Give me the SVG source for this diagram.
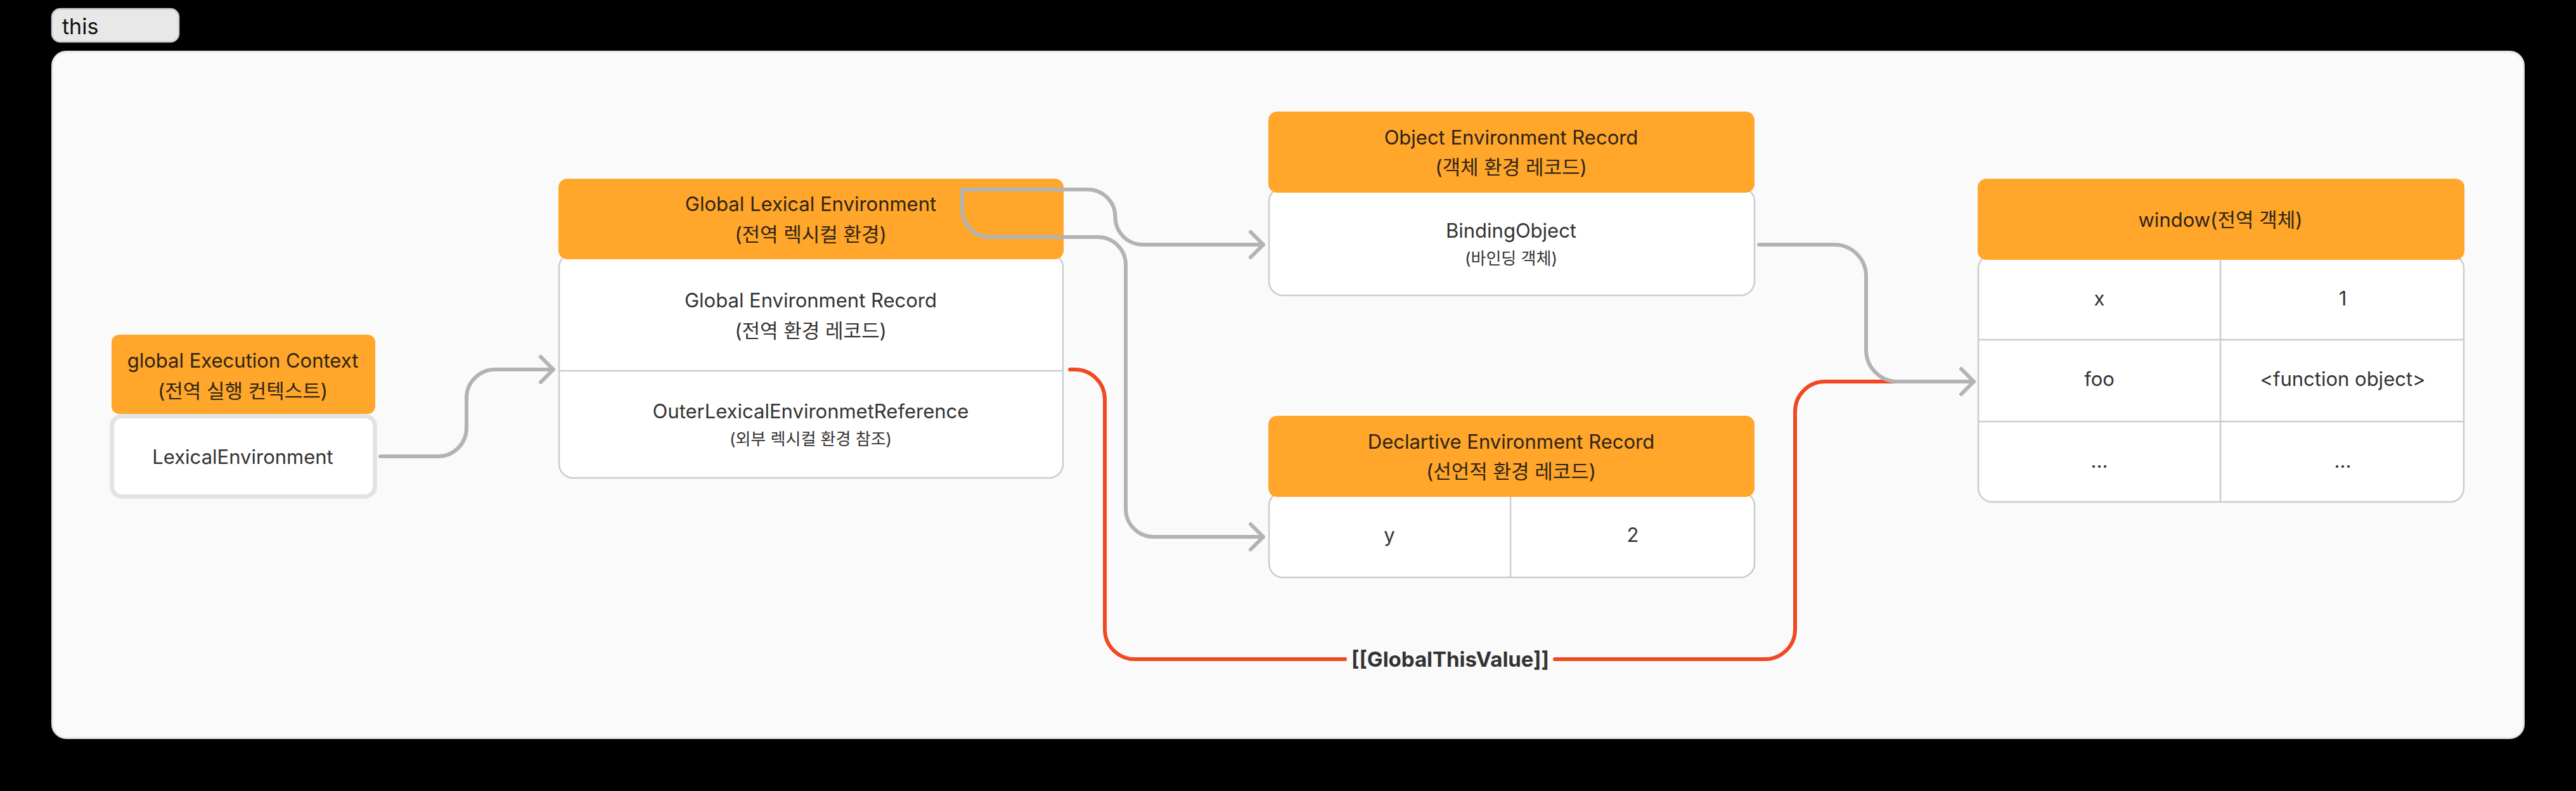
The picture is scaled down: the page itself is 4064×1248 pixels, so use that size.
<svg xmlns="http://www.w3.org/2000/svg" width="4064" height="1248" viewBox="0 0 4064 1248">
<style>
.t{font-family:Inter,"Noto Sans CJK KR",sans-serif;font-size:31px;text-anchor:middle;fill:#333333}
.h{fill:#2e2416}
.s{font-size:26px}
.hd{fill:#FFA62B}
.bd{fill:#ffffff;stroke:#cccccc;stroke-width:2.5}
.dv{stroke:#cccccc;stroke-width:2.5;fill:none}
.cg{fill:none;stroke:#b3b3b3;stroke-width:6;stroke-linecap:round;stroke-linejoin:round}
.cr{fill:none;stroke:#F24822;stroke-width:6;stroke-linecap:round;stroke-linejoin:round}
</style>
<defs>
<marker id="ag" markerUnits="userSpaceOnUse" markerWidth="50" markerHeight="50" viewBox="-30 -25 35 50" refX="0" refY="0" orient="auto">
<path d="M-20,-20 L0,0 L-20,20" fill="none" stroke="#b3b3b3" stroke-width="6" stroke-linecap="round" stroke-linejoin="round"/>
</marker>
</defs>
<rect x="0" y="0" width="4064" height="1248" fill="#000000"/>
<g id="tab">
<rect x="82" y="14" width="200" height="52" rx="13" fill="#e8e8e8" stroke="#cccccc" stroke-width="2.5"/>
<text x="98" y="54" style="font-family:Inter,sans-serif;font-size:34px;fill:#111111">this</text>
</g>
<g id="frame">
<rect x="82.5" y="81.5" width="3899" height="1083" rx="22" fill="#fafafa" stroke="#e6e6e6" stroke-width="3"/>
</g>
<g id="global-execution-context">
<rect x="176.5" y="656.5" width="415" height="127" rx="16" fill="#ffffff" stroke="#e3e3e3" stroke-width="7"/>
<rect class="hd" x="176" y="528" width="416" height="125" rx="12"/>
<text class="t h" x="383" y="580">global Execution Context</text>
<text class="t h" x="383" y="628">(전역 실행 컨텍스트)</text>
<text class="t" x="383" y="732">LexicalEnvironment</text>
</g>
<g id="global-lexical-environment">
<rect class="bd" x="882" y="400" width="795" height="354" rx="22"/>
<line class="dv" x1="882" y1="585" x2="1677" y2="585"/>
<rect class="hd" x="881" y="282" width="797" height="127" rx="14"/>
<text class="t h" x="1279" y="333">Global Lexical Environment</text>
<text class="t h" x="1279" y="381">(전역 렉시컬 환경)</text>
<text class="t" x="1279" y="485">Global Environment Record</text>
<text class="t" x="1279" y="533">(전역 환경 레코드)</text>
<text class="t" x="1279" y="660">OuterLexicalEnvironmetReference</text>
<text class="t s" x="1279" y="702">(외부 렉시컬 환경 참조)</text>
</g>
<g id="object-environment-record">
<rect class="bd" x="2002" y="296" width="766" height="170" rx="22"/>
<rect class="hd" x="2001" y="176" width="767" height="128" rx="14"/>
<text class="t h" x="2384" y="228">Object Environment Record</text>
<text class="t h" x="2384" y="275">(객체 환경 레코드)</text>
<text class="t" x="2384" y="375">BindingObject</text>
<text class="t s" x="2384" y="417">(바인딩 객체)</text>
</g>
<g id="declarative-environment-record">
<rect class="bd" x="2002" y="776" width="766" height="135" rx="22"/>
<line class="dv" x1="2383" y1="784" x2="2383" y2="911"/>
<rect class="hd" x="2001" y="656" width="767" height="128" rx="14"/>
<text class="t h" x="2384" y="708">Declartive Environment Record</text>
<text class="t h" x="2384" y="755">(선언적 환경 레코드)</text>
<text class="t" x="2192" y="855">y</text>
<text class="t" x="2576" y="855">2</text>
</g>
<g id="window">
<rect class="bd" x="3121" y="402" width="766" height="390" rx="22"/>
<line class="dv" x1="3121" y1="536" x2="3887" y2="536"/>
<line class="dv" x1="3121" y1="665" x2="3887" y2="665"/>
<line class="dv" x1="3503" y1="410" x2="3503" y2="792"/>
<rect class="hd" x="3120" y="282" width="768" height="128" rx="14"/>
<text class="t h" x="3503" y="358">window(전역 객체)</text>
<text class="t" x="3312" y="482">x</text>
<text class="t" x="3696" y="482">1</text>
<text class="t" x="3312" y="609">foo</text>
<text class="t" x="3696" y="609">&lt;function object&gt;</text>
<text class="t" x="3312" y="738">...</text>
<text class="t" x="3696" y="738">...</text>
</g>
<g id="connectors">
<path class="cg" d="M600,720 H691 A45,45 0 0 0 736,675 V628 A45,45 0 0 1 781,583 H873" marker-end="url(#ag)"/>
<path class="cg" d="M1518,299 H1716 A43.5,43.5 0 0 1 1759.5,342.5 A43.5,43.5 0 0 0 1803,386 H1993" marker-end="url(#ag)"/>
<path class="cg" d="M1518,299 V330 A44,44 0 0 0 1562,374 H1732 A44,44 0 0 1 1776,418 V803 A44,44 0 0 0 1820,847 H1993" marker-end="url(#ag)"/>
<path class="cr" d="M1688,583 H1696 A47,47 0 0 1 1743,630 V993 A47,47 0 0 0 1790,1040 H2122"/>
<path class="cr" d="M2453,1040 H2785 A47,47 0 0 0 2832,993 V649 A47,47 0 0 1 2879,602 H3108"/>
<path class="cg" d="M2775,386 H2894 A50,50 0 0 1 2944,436 V552 A50,50 0 0 0 2994,602 H3114" marker-end="url(#ag)"/>
<text x="2288" y="1052" class="t" style="font-size:33px;font-weight:700;fill:#333333">[[GlobalThisValue]]</text>
</g>
</svg>
